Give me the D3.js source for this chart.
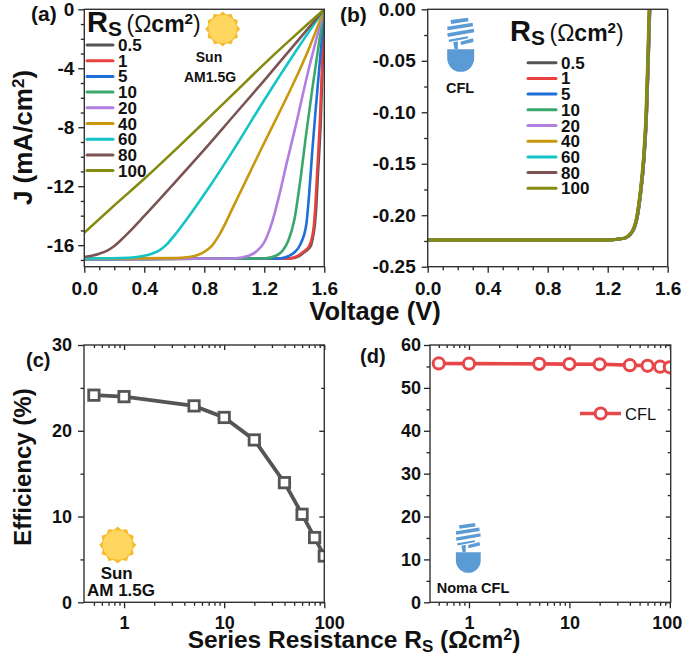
<!DOCTYPE html>
<html>
<head>
<meta charset="utf-8">
<script src="https://cdn.jsdelivr.net/npm/d3@7"></script>
<style>
html,body{margin:0;padding:0;background:#fff}
svg{display:block}
text{font-family:"Liberation Sans",Arial,sans-serif;fill:#111}
</style>
</head>
<body>
<div id="chart"></div>
<script>
// ---------- data ----------
const seriesNames = ["0.5","1","5","10","20","40","60","80","100"];
const seriesColors = ["#555555","#e8413f","#1f6fd8","#3aa76d","#b07fe0","#c9980f","#14c4c6","#7c5454","#858a10"];

// Panel (a): J-V under the sun
const sunV_05  = [0,1.37,1.43,1.47,1.51,1.527,1.537,1.547,1.557,1.577,1.59,1.6];
const sunJ_05  = [-16.95,-16.9,-16.75,-16.45,-16.05,-15.3,-14.6,-13.3,-11.3,-7.4,-3.2,0];
const sunV_1   = [0,1.36,1.42,1.46,1.5,1.52,1.53,1.54,1.55,1.57,1.585,1.6];
const sunJ_1   = [-16.95,-16.9,-16.75,-16.45,-16.05,-15.4,-14.7,-13.4,-11.5,-7.7,-3.9,0];
const sunV_5   = [0,1.3,1.36,1.4,1.44,1.48,1.5,1.52,1.54,1.56,1.58,1.6];
const sunJ_5   = [-16.95,-16.9,-16.75,-16.5,-15.95,-14.6,-12.4,-9.6,-7.1,-4.75,-2.38,0];
const sunV_10  = [0,1.2,1.28,1.32,1.36,1.4,1.44,1.48,1.52,1.56,1.6];
const sunJ_10  = [-16.95,-16.9,-16.7,-16.4,-15.7,-14.3,-11.6,-8.4,-5.4,-2.6,0];
const sunV_20  = [0,1.0,1.1,1.15,1.2,1.25,1.3,1.35,1.4,1.5,1.55,1.6];
const sunJ_20  = [-16.95,-16.9,-16.7,-16.4,-15.8,-14.5,-12.6,-10.4,-8.3,-3.9,-1.9,0];
const sunV_40  = [0,0.6,0.7,0.76,0.8,0.85,0.9,1.0,1.1,1.2,1.3,1.4,1.5,1.6];
const sunJ_40  = [-16.9,-16.88,-16.8,-16.65,-16.45,-16.05,-15.3,-13.25,-11.15,-9.05,-7.0,-4.9,-2.6,0];
const sunV_60  = [0,0.3,0.4,0.45,0.5,0.55,0.6,0.7,0.8,1.0,1.2,1.4,1.6];
const sunJ_60  = [-16.9,-16.85,-16.72,-16.58,-16.35,-15.95,-15.35,-14.0,-12.55,-9.45,-6.15,-3.0,0];
const sunV_80  = [0,0.05,0.1,0.15,0.2,0.25,0.3,0.4,0.6,0.8,1.0,1.2,1.4,1.6];
const sunJ_80  = [-16.8,-16.72,-16.58,-16.38,-16.05,-15.6,-15.1,-14.02,-11.79,-9.52,-7.17,-4.82,-2.41,0];
const sunV_100 = [0,0.2,0.4,0.6,0.8,1.0,1.2,1.4,1.6];
const sunJ_100 = [-15.15,-13.3,-11.5,-9.6,-7.65,-5.68,-3.7,-1.82,0];
const sunV = [sunV_05,sunV_1,sunV_5,sunV_10,sunV_20,sunV_40,sunV_60,sunV_80,sunV_100];
const sunJ = [sunJ_05,sunJ_1,sunJ_5,sunJ_10,sunJ_20,sunJ_40,sunJ_60,sunJ_80,sunJ_100];

// Panel (b): J-V under CFL (the nine curves almost coincide)
const cflJ     = [-0.224,-0.224,-0.2235,-0.2225,-0.216,-0.2014,-0.1787,-0.146,-0.1,-0.05,0];
const cflV_05  = [0,1.149,1.25,1.308,1.365,1.398,1.42,1.442,1.46,1.471,1.481];
const cflV_1   = [0,1.149,1.25,1.308,1.365,1.398,1.42,1.442,1.46,1.471,1.481];
const cflV_5   = [0,1.149,1.25,1.307,1.364,1.397,1.419,1.441,1.459,1.47,1.48];
const cflV_10  = [0,1.149,1.25,1.307,1.364,1.397,1.419,1.441,1.459,1.47,1.48];
const cflV_20  = [0,1.149,1.25,1.306,1.363,1.396,1.418,1.44,1.458,1.469,1.479];
const cflV_40  = [0,1.149,1.25,1.306,1.363,1.396,1.418,1.44,1.458,1.469,1.479];
const cflV_60  = [0,1.149,1.25,1.305,1.362,1.395,1.417,1.439,1.457,1.468,1.478];
const cflV_80  = [0,1.149,1.25,1.305,1.362,1.395,1.417,1.439,1.457,1.468,1.477];
const cflV_100 = [0,1.149,1.25,1.304,1.36,1.393,1.415,1.437,1.455,1.466,1.476];
const cflV = [cflV_05,cflV_1,cflV_5,cflV_10,cflV_20,cflV_40,cflV_60,cflV_80,cflV_100];

// Panels (c), (d): efficiency against series resistance
const resistance = [0.5,1,5,10,20,40,60,80,100];
const effSun = [24.15,23.98,22.9,21.55,18.93,13.95,10.26,7.55,5.4];
const effCFL = [55.7,55.65,55.6,55.55,55.5,55.3,55.15,54.95,54.8];

// Tick values
const voltTicks = [0,0.4,0.8,1.2,1.6];
const voltMinor = [0.1,0.2,0.3,0.5,0.6,0.7,0.9,1.0,1.1,1.3,1.4,1.5];
const jTicks = [0,-4,-8,-12,-16];
const jMinor = [-1,-2,-3,-5,-6,-7,-9,-10,-11,-13,-14,-15,-17];
const jcTicks = [0,-0.05,-0.10,-0.15,-0.20,-0.25];
const jcMinor = [-0.025,-0.075,-0.125,-0.175,-0.225];
const resTicks = [1,10,100];
const resMinor = [0.5,0.6,0.7,0.8,0.9,2,3,4,5,6,7,8,9,20,30,40,50,60,70,80,90];
const effTicks = [0,10,20,30];
const effMinor = [5,15,25];
const eff2Ticks = [0,10,20,30,40,50,60];
const eff2Minor = [5,15,25,35,45,55];

// ---------- drawing ----------
const svg = d3.select("#chart").append("svg").attr("width",685).attr("height",662);
const defs = svg.append("defs");
const INK = "#222";

const boxes = {
  a:{l:84.3,r:324.3,t:9.3,b:266.7},
  b:{l:427.7,r:667.7,t:9.3,b:266.7},
  c:{l:84,r:324.3,t:345,b:602.3},
  d:{l:430,r:670.7,t:345,b:602.3}
};
const xA = d3.scaleLinear().domain([0,1.6]).range([boxes.a.l,boxes.a.r]);
const yA = d3.scaleLinear().domain([0,-17.46]).range([boxes.a.t,boxes.a.b]);
const xB = d3.scaleLinear().domain([0,1.6]).range([boxes.b.l,boxes.b.r]);
const yB = d3.scaleLinear().domain([0,-0.25]).range([boxes.b.t,boxes.b.b]);
const xC = d3.scaleLog().domain([0.398,100]).range([boxes.c.l,boxes.c.r]);
const yC = d3.scaleLinear().domain([0,30]).range([boxes.c.b,boxes.c.t]);
const xD = d3.scaleLog().domain([0.409,102]).range([boxes.d.l,boxes.d.r]);
const yD = d3.scaleLinear().domain([0,60]).range([boxes.d.b,boxes.d.t]);

function clip(id,b){
  defs.append("clipPath").attr("id",id).append("rect")
    .attr("x",b.l).attr("y",b.t).attr("width",b.r-b.l).attr("height",b.b-b.t);
}
Object.keys(boxes).forEach(k=>clip("clip-"+k,boxes[k]));

function styleAxis(g,size){
  g.select(".domain").remove();
  g.selectAll("line").attr("stroke",INK).attr("stroke-width",1.3);
  g.selectAll("text").attr("font-size",size).attr("font-weight","bold").attr("fill","#111");
}
function noLabels(g){
  g.select(".domain").remove();
  g.selectAll("line").attr("stroke",INK).attr("stroke-width",1.3);
  g.selectAll("text").remove();
}
function axes(box,x,y,o){
  const bottom = d3.axisBottom(x).tickValues(o.xTicks).tickSize(6).tickPadding(o.xPad).tickFormat(o.xFmt);
  const bottomMinor = d3.axisBottom(x).tickValues(o.xMinor).tickSize(3.5);
  const left = d3.axisLeft(y).tickValues(o.yTicks).tickSize(6).tickPadding(o.pad||5).tickFormat(o.yFmt);
  const leftMinor = d3.axisLeft(y).tickValues(o.yMinor).tickSize(3.5);
  const gb = svg.append("g").attr("transform",`translate(0,${box.b})`);
  const gMain = gb.append("g").call(bottom).call(g=>styleAxis(g,o.size));
  if(o.lastShift) gMain.selectAll(".tick text").filter(d=>d===100).attr("dx",o.lastShift);
  gb.append("g").call(bottomMinor).call(noLabels);
  const gl = svg.append("g").attr("transform",`translate(${box.l},0)`);
  gl.append("g").call(left).call(g=>styleAxis(g,o.size));
  gl.append("g").call(leftMinor).call(noLabels);
  if(o.mirror){
    const gt = svg.append("g").attr("transform",`translate(0,${box.t})`);
    gt.append("g").call(d3.axisTop(x).tickValues(o.xTicks).tickSize(-5)).call(noLabels);
    gt.append("g").call(d3.axisTop(x).tickValues(o.xMinor).tickSize(-3)).call(noLabels);
    const gr = svg.append("g").attr("transform",`translate(${box.r},0)`);
    gr.append("g").call(d3.axisRight(y).tickValues(o.yTicks).tickSize(-5)).call(noLabels);
    gr.append("g").call(d3.axisRight(y).tickValues(o.yMinor).tickSize(-3)).call(noLabels);
  }
}
function frame(b){
  svg.append("rect").attr("x",b.l).attr("y",b.t).attr("width",b.r-b.l).attr("height",b.b-b.t)
    .attr("fill","none").attr("stroke","#333").attr("stroke-width",1.4);
}
function label(x,y,txt,size,anchor,extra){
  const t = svg.append("text").attr("x",x).attr("y",y).attr("font-size",size)
    .attr("font-weight","bold").attr("text-anchor",anchor||"start").text(txt);
  if(extra) t.attr("fill",extra);
  return t;
}
function rsTitle(x,baseline,big,rest){
  const t = svg.append("text").attr("x",x).attr("y",baseline).attr("font-weight","bold").attr("font-size",big);
  t.append("tspan").text("R");
  t.append("tspan").attr("font-size",big*0.72).attr("dy",4).text("S");
  t.append("tspan").attr("dy",-4).attr("dx",rest*0.2).attr("font-size",rest).attr("font-weight","normal").text("(\u03A9");
  t.append("tspan").attr("font-size",rest).text("cm");
  t.append("tspan").attr("font-size",rest*0.66).attr("dy",-8).text("2");
  t.append("tspan").attr("font-size",rest).attr("font-weight","normal").attr("dy",8).text(")");
}
function legend(x1,x2,tx,y0,step){
  seriesNames.forEach((n,i)=>{
    const y = y0+i*step;
    svg.append("line").attr("x1",x1).attr("x2",x2).attr("y1",y).attr("y2",y)
      .attr("stroke",seriesColors[i]).attr("stroke-width",3).attr("stroke-linecap","round");
    label(tx,y+6,n,17);
  });
}
function sun(cx,cy,R){
  const pts = d3.range(24).map(i=>[i*Math.PI/12, i%2? R*0.84 : R]);
  svg.append("path").attr("transform",`translate(${cx},${cy})`)
    .attr("d",d3.lineRadial().curve(d3.curveLinearClosed)(pts)).attr("fill","#f6bb2c");
  svg.append("circle").attr("cx",cx).attr("cy",cy).attr("r",R*0.8).attr("fill","#ffd65f");
}
function bulb(cx,bottom,k){
  const g = svg.append("g").attr("transform",`translate(${cx},${bottom}) scale(${k/3}) translate(-92.5,-185)`)
    .attr("fill","#5b9bd5");
  const bars = [
    "M62,30 L114,23 L116,34 L64,42 Z",
    "M52,50 L128,38 L130,49 L53,61 Z",
    "M52,70 L132,56 L133,67 L54,81 Z",
    "M56,89 L114,79 L115,85 L58,96 Z",
    "M92,95 L129,85 L131,96 L93,105 Z"
  ];
  g.selectAll("path.bar").data(bars).join("path").attr("class","bar").attr("d",d=>d);
  g.append("path").attr("d","M70,97 L84,94 L84,118 L74,118 Z");
  g.append("path").attr("d","M52,118 L133,118 L133,145 A40.5,40.5 0 0 1 52,145 Z");
}

// Panel (a)
axes(boxes.a,xA,yA,{xTicks:voltTicks,xMinor:voltMinor,yTicks:jTicks,yMinor:jMinor,size:19,pad:4,xPad:9,
  xFmt:d3.format(".1f"),yFmt:d=>String(d).replace("\u2212","-")});
const lineA = d3.line().x(d=>xA(d[0])).y(d=>yA(d[1])).curve(d3.curveMonotoneX);
const gA = svg.append("g").attr("clip-path","url(#clip-a)");
sunV.forEach((vs,i)=>{
  gA.append("path").attr("d",lineA(d3.zip(vs,sunJ[i]))).attr("fill","none")
    .attr("stroke",seriesColors[i]).attr("stroke-width",2.6);
});
frame(boxes.a);

// Panel (b)
axes(boxes.b,xB,yB,{xTicks:voltTicks,xMinor:voltMinor,yTicks:jcTicks,yMinor:jcMinor,size:19,pad:6,xPad:9,
  xFmt:d3.format(".1f"),yFmt:d=>d3.format(".2f")(d).replace("\u2212","-")});
const lineB = d3.line().x(d=>xB(d[0])).y(d=>yB(d[1])).curve(d3.curveMonotoneX);
const gB = svg.append("g").attr("clip-path","url(#clip-b)");
cflV.forEach((vs,i)=>{
  gB.append("path").attr("d",lineB(d3.zip(vs,cflJ))).attr("fill","none")
    .attr("stroke",seriesColors[i]).attr("stroke-width",3);
});
frame(boxes.b);

// Panel (c)
axes(boxes.c,xC,yC,{xTicks:resTicks,xMinor:resMinor,yTicks:effTicks,yMinor:effMinor,size:18,pad:6,xPad:7.5,mirror:true,lastShift:5,
  xFmt:d3.format("d"),yFmt:d3.format("d")});
const gC = svg.append("g").attr("clip-path","url(#clip-c)");
gC.append("path").attr("d",d3.line().x(d=>xC(d[0])).y(d=>yC(d[1]))(d3.zip(resistance,effSun)))
  .attr("fill","none").attr("stroke","#555").attr("stroke-width",3.8);
gC.selectAll("rect.m").data(d3.zip(resistance,effSun)).join("rect").attr("class","m")
  .attr("x",d=>xC(d[0])-5.2).attr("y",d=>yC(d[1])-5.2).attr("width",10.4).attr("height",10.4)
  .attr("fill","#fff").attr("stroke","#555").attr("stroke-width",2.8);
frame(boxes.c);

// Panel (d)
axes(boxes.d,xD,yD,{xTicks:resTicks,xMinor:resMinor,yTicks:eff2Ticks,yMinor:eff2Minor,size:18,pad:3,xPad:7.5,mirror:true,lastShift:-3,
  xFmt:d3.format("d"),yFmt:d3.format("d")});
const gD = svg.append("g").attr("clip-path","url(#clip-d)");
gD.append("path").attr("d",d3.line().x(d=>xD(d[0])).y(d=>yD(d[1]))(d3.zip(resistance,effCFL)))
  .attr("fill","none").attr("stroke","#e8474a").attr("stroke-width",3.6);
gD.selectAll("circle.m").data(d3.zip(resistance,effCFL)).join("circle").attr("class","m")
  .attr("cx",d=>xD(d[0])).attr("cy",d=>yD(d[1])).attr("r",5.6)
  .attr("fill","#fff").attr("stroke","#e8474a").attr("stroke-width",3);
frame(boxes.d);

// Legend of (d)
svg.append("line").attr("x1",580).attr("x2",621).attr("y1",413.5).attr("y2",413.5)
  .attr("stroke","#e8474a").attr("stroke-width",3.6);
svg.append("circle").attr("cx",600.7).attr("cy",413.5).attr("r",5.6)
  .attr("fill","#fff").attr("stroke","#e8474a").attr("stroke-width",3);
svg.append("text").attr("x",625).attr("y",419.5).attr("font-size",16.5).attr("fill","#222").text("CFL");

// Panel tags
label(31,21,"(a)",21);
label(340,22,"(b)",21);
label(26,367,"(c)",20);
label(360,363,"(d)",20);

// Legends
rsTitle(87,31.5,29,23);
legend(87,113,118,45,15.7);
rsTitle(510,40.5,29,23);
legend(528,556,561,62.7,15.7);

// Icons and captions
sun(222.7,29,17.5);
label(209,62,"Sun",14,"middle","#222");
label(210,81.5,"AM1.5G",14,"middle","#222");
sun(117.7,545,18.5);
label(116.7,579,"Sun",17,"middle","#222");
label(121,596,"AM 1.5G",17,"middle","#222");
bulb(460.7,71.7,1);
label(460,92.5,"CFL",14.5,"middle","#222");
bulb(468.3,572.7,0.92);
label(473,593,"Noma CFL",14.5,"middle","#222");

// Axis titles
label(375,320,"Voltage (V)",25.5,"middle");
svg.append("text").attr("transform","translate(32,137.5) rotate(-90)").attr("text-anchor","middle")
  .attr("font-size",26).attr("font-weight","bold")
  .call(t=>{t.append("tspan").text("J (mA/cm");
    t.append("tspan").attr("font-size",17).attr("dy",-8).text("2");
    t.append("tspan").attr("dy",8).text(")");});
svg.append("text").attr("transform","translate(31,467) rotate(-90)").attr("text-anchor","middle")
  .attr("font-size",24).attr("font-weight","bold").text("Efficiency (%)");
svg.append("text").attr("x",354).attr("y",648).attr("text-anchor","middle")
  .attr("font-size",24.5).attr("font-weight","bold")
  .call(t=>{t.append("tspan").text("Series Resistance R");
    t.append("tspan").attr("font-size",17).attr("dy",4).text("S");
    t.append("tspan").attr("dy",-4).text(" (\u03A9cm");
    t.append("tspan").attr("font-size",16).attr("dy",-8).text("2");
    t.append("tspan").attr("dy",8).text(")");});
</script>
</body>
</html>
